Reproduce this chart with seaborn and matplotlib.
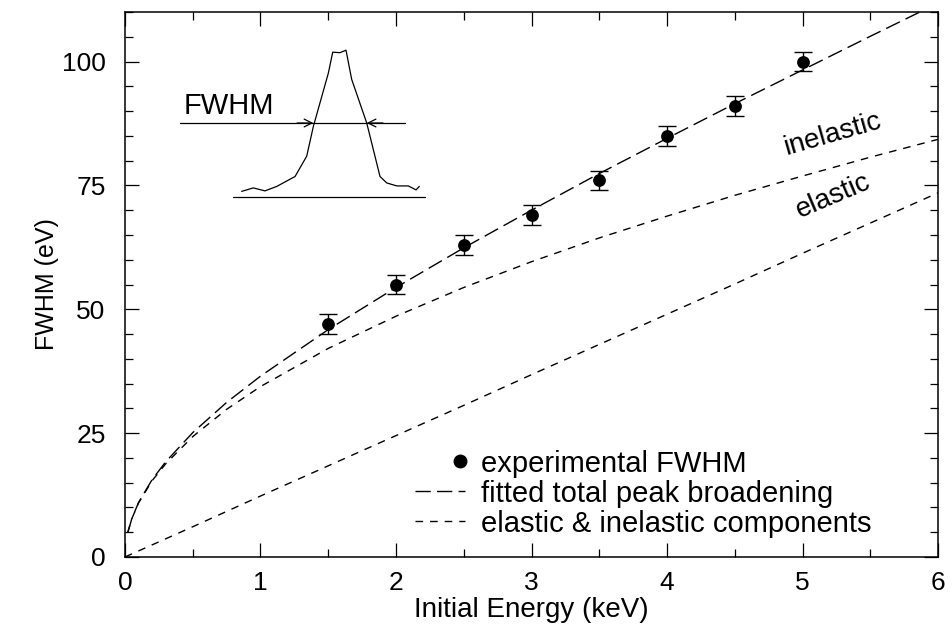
import numpy as np
import pandas as pd
import matplotlib
matplotlib.use("Agg")
import matplotlib.pyplot as plt
import seaborn as sns
from matplotlib.lines import Line2D
from matplotlib.legend_handler import HandlerLine2D
from matplotlib.ticker import MultipleLocator

# ---------------- data ----------------
exp_energy = [1.5, 2.0, 2.5, 3.0, 3.5, 4.0, 4.5, 5.0]
exp_fwhm = [47, 55, 63, 69, 76, 85, 91, 100]
exp_err = [2, 2, 2, 2, 2, 2, 2, 2]

curve_energy = [0.02, 0.05, 0.1, 0.2, 0.3, 0.5, 0.75, 1.0, 1.5, 2.0, 2.5, 3.0,
                3.5, 4.0, 4.5, 5.0, 5.5, 6.0]
total_fwhm = [4.9, 7.7, 11.0, 15.6, 19.2, 25.1, 31.2, 36.5, 45.9, 54.4, 62.4,
              70.0, 77.4, 84.5, 91.5, 98.3, 105.1, 111.8]
inelastic_fwhm = [4.9, 7.7, 10.9, 15.4, 18.8, 24.3, 29.8, 34.4, 42.1, 48.6,
                  54.4, 59.6, 64.4, 68.8, 73.0, 76.9, 80.7, 84.3]
elastic_energy = [0.0, 0.5, 1.0, 1.5, 2.0, 2.5, 3.0, 3.5, 4.0, 4.5, 5.0, 5.5, 6.0]
elastic_fwhm = [0.0, 6.1, 12.3, 18.4, 24.5, 30.6, 36.8, 42.9, 49.0, 55.1, 61.3,
                67.4, 73.5]

# inset sketch of a peak (drawn in data units of the main axes)
inset_peak_x = [0.861, 0.947, 1.033, 1.120, 1.255, 1.341, 1.390, 1.501, 1.533,
                1.587, 1.631, 1.673, 1.784, 1.882, 1.932, 2.006, 2.091, 2.148, 2.172]
inset_peak_y = [73.8, 74.5, 73.9, 74.8, 76.8, 80.9, 86.9, 97.7, 101.9, 101.8,
                102.3, 96.4, 87.6, 76.8, 75.5, 74.9, 74.9, 74.1, 74.8]
inset_half_x = [0.406, 2.066]
inset_half_y = [87.6, 87.6]
inset_base_x = [0.80, 2.214]
inset_base_y = [72.7, 72.7]
inset_cross_x = [1.39, 1.784]

x_ticks = [0, 1, 2, 3, 4, 5, 6]
y_ticks = [0, 25, 50, 75, 100]

legend_labels = ["experimental FWHM", "fitted total peak broadening",
                 "elastic & inelastic components"]

# ---------------- style ----------------
sns.set_theme(style="ticks")
plt.rcParams["font.family"] = ["Liberation Sans", "DejaVu Sans"]
for k in ["text.color", "axes.labelcolor", "xtick.color", "ytick.color",
          "axes.edgecolor"]:
    plt.rcParams[k] = "black"

fig = plt.figure(figsize=(9.52, 6.34), dpi=100)
ax = fig.add_axes([0.1313, 0.1215, 0.8540, 0.8595])

lw = 1.0
total_dash = (11, 4.5)
comp_dash = (5.5, 5)

df_total = pd.DataFrame({"E": curve_energy, "F": total_fwhm})
df_inel = pd.DataFrame({"E": curve_energy, "F": inelastic_fwhm})
df_el = pd.DataFrame({"E": elastic_energy, "F": elastic_fwhm})

sns.lineplot(data=df_total, x="E", y="F", ax=ax, color="black", lw=lw, sort=False)
ax.lines[-1].set_dashes(total_dash)
sns.lineplot(data=df_inel, x="E", y="F", ax=ax, color="black", lw=lw, sort=False)
ax.lines[-1].set_dashes(comp_dash)
sns.lineplot(data=df_el, x="E", y="F", ax=ax, color="black", lw=lw, sort=False)
ax.lines[-1].set_dashes(comp_dash)

ax.errorbar(exp_energy, exp_fwhm, yerr=exp_err, fmt="none", ecolor="black",
            elinewidth=1.0, capsize=6.5, capthick=1.0, zorder=4)
sns.scatterplot(x=exp_energy, y=exp_fwhm, ax=ax, color="black", s=85,
                edgecolor="black", linewidth=0, zorder=5)

# inset
ax.plot(inset_peak_x, inset_peak_y, color="black", lw=0.9)
ax.plot(inset_half_x, inset_half_y, color="black", lw=0.9)
ax.plot(inset_base_x, inset_base_y, color="black", lw=0.9)
ax.annotate("", xy=(inset_cross_x[0], inset_half_y[0]),
            xytext=(inset_cross_x[0] - 0.12, inset_half_y[0]),
            arrowprops=dict(arrowstyle="->", lw=0.9, color="black",
                            shrinkA=0, shrinkB=0, mutation_scale=14))
ax.annotate("", xy=(inset_cross_x[1], inset_half_y[0]),
            xytext=(inset_cross_x[1] + 0.12, inset_half_y[0]),
            arrowprops=dict(arrowstyle="->", lw=0.9, color="black",
                            shrinkA=0, shrinkB=0, mutation_scale=14))
ax.text(0.43, 89.5, "FWHM", fontsize=21, ha="left", va="baseline")

# curve labels
ax.text(5.22, 85.2, "inelastic", fontsize=20, rotation=16, ha="center",
        va="center", rotation_mode="anchor")
ax.text(5.23, 72.9, "elastic", fontsize=20, rotation=23, ha="center",
        va="center", rotation_mode="anchor")

# axes
ax.set_xlim(0, 6)
ax.set_ylim(0, 110)
ax.set_xticks(x_ticks)
ax.set_yticks(y_ticks)
ax.xaxis.set_minor_locator(MultipleLocator(0.5))
ax.yaxis.set_minor_locator(MultipleLocator(5))
ax.tick_params(which="both", direction="in", top=True, right=True,
               colors="black", labelcolor="black", labelsize=19, width=0.9)
ax.tick_params(which="major", length=10)
ax.tick_params(which="minor", length=5.5)
ax.tick_params(axis="x", which="major", pad=10)
ax.tick_params(axis="y", which="major", pad=14)
for s in ax.spines.values():
    s.set_visible(True)
    s.set_linewidth(1.1)
    s.set_color("black")
ax.set_xlabel("Initial Energy (keV)", fontsize=20, labelpad=1.5, color="black")
ax.set_ylabel("FWHM (eV)", fontsize=18, labelpad=2, color="black")
ax.set_facecolor("white")
fig.patch.set_facecolor("white")


class RightMarker(HandlerLine2D):
    def get_xdata(self, legend, xdescent, ydescent, width, height, fontsize):
        xd = np.array([-xdescent + width * 0.9])
        return xd, xd


h_exp = Line2D([], [], ls="none", marker="o", color="black", markersize=9)
h_tot = Line2D([], [], color="black", lw=lw, dashes=total_dash)
h_comp = Line2D([], [], color="black", lw=lw, dashes=comp_dash)
leg = ax.legend([h_exp, h_tot, h_comp], legend_labels, loc="upper left",
                bbox_to_anchor=(0.357, 0.197), frameon=False, fontsize=21,
                handlelength=1.71, handletextpad=0.55, labelspacing=0.07,
                borderpad=0, borderaxespad=0,
                handler_map={h_exp: RightMarker(numpoints=1)})
for t in leg.get_texts():
    t.set_color("black")

fig.savefig("out.png", dpi=100)
